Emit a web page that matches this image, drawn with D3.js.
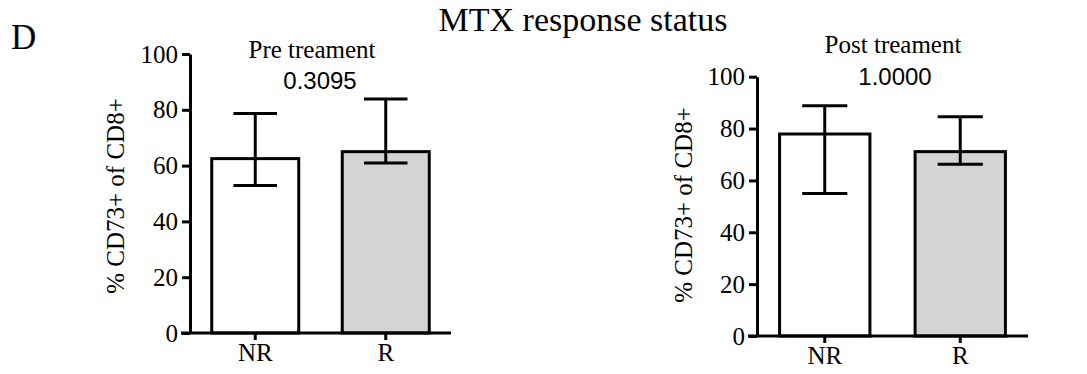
<!DOCTYPE html>
<html><head><meta charset="utf-8">
<script src="https://cdn.jsdelivr.net/npm/d3@7"></script>
<style>
html,body{margin:0;padding:0;background:#fff;}
svg{display:block;}
</style></head>
<body>
<svg id="chart" width="1087" height="374"></svg>
<script>
const categories = ["NR", "R"];
const yTicks = [0, 20, 40, 60, 80, 100];
const preMeans = [62.5, 65.0];
const preUpper = [78.7, 83.9];
const preLower = [52.9, 60.9];
const postMeans = [77.9, 71.1];
const postUpper = [88.8, 84.6];
const postLower = [55.0, 66.2];
const barFills = ["#ffffff", "#d4d4d4"];

const svg = d3.select("#chart");
const serif = "'Liberation Serif', 'Times New Roman', serif";
const sans = "'Liberation Sans', Arial, sans-serif";

svg.append("text").attr("x", 11).attr("y", 49).style("font-family", serif)
  .style("font-size", "35px").text("D");
svg.append("text").attr("x", 583).attr("y", 31).attr("text-anchor", "middle")
  .style("font-family", serif).style("font-size", "34px").text("MTX response status");

function panel(cfg) {
  const x = d3.scaleBand().domain(categories).range([cfg.x0, cfg.x1])
    .paddingInner(1/3).paddingOuter(1/6);
  const y = d3.scaleLinear().domain([0, 100]).range([cfg.yb, cfg.yt]);
  const g = svg.append("g");

  // bars
  g.selectAll("rect.bar").data(categories).enter().append("rect")
    .attr("x", d => x(d)).attr("width", x.bandwidth())
    .attr("y", (d, i) => y(cfg.means[i]))
    .attr("height", (d, i) => y(0) - y(cfg.means[i]))
    .attr("fill", (d, i) => barFills[i]).attr("stroke", "#000").attr("stroke-width", 3);

  // error bars
  const cap = x.bandwidth() * 0.5;
  categories.forEach((c, i) => {
    const cx = x(c) + x.bandwidth() / 2;
    g.append("line").attr("x1", cx).attr("x2", cx)
      .attr("y1", y(cfg.upper[i])).attr("y2", y(cfg.lower[i]))
      .attr("stroke", "#000").attr("stroke-width", 3);
    [cfg.upper[i], cfg.lower[i]].forEach(v => {
      g.append("line").attr("x1", cx - cap / 2).attr("x2", cx + cap / 2)
        .attr("y1", y(v)).attr("y2", y(v)).attr("stroke", "#000").attr("stroke-width", 3);
    });
  });

  // y axis
  const yAxis = g.append("g").attr("transform", `translate(${cfg.x0},0)`)
    .call(d3.axisLeft(y).tickValues(yTicks).tickSize(8).tickPadding(4).tickSizeOuter(0));
  yAxis.attr("font-family", null).attr("font-size", null);
  yAxis.select(".domain").attr("stroke", "#000").attr("stroke-width", 3);
  yAxis.selectAll(".tick line").attr("stroke", "#000").attr("stroke-width", 3);
  yAxis.selectAll(".tick text").style("font-family", serif).style("font-size", "25px").attr("fill", "#000");

  // x axis
  const xAxis = g.append("g").attr("transform", `translate(0,${cfg.yb})`)
    .call(d3.axisBottom(x).tickSize(7).tickPadding(3).tickSizeOuter(0));
  xAxis.attr("font-family", null).attr("font-size", null);
  xAxis.select(".domain").attr("d", `M${cfg.x0 - 9},0H${cfg.x1}`)
    .attr("stroke", "#000").attr("stroke-width", 3);
  xAxis.selectAll(".tick line").attr("stroke", "#000").attr("stroke-width", 3);
  xAxis.selectAll(".tick text").style("font-family", serif).style("font-size", "25px").attr("fill", "#000");

  // y label
  g.append("text").attr("transform", `translate(${cfg.labelX},${cfg.labelY}) rotate(-90)`)
    .attr("text-anchor", "middle").style("font-family", serif).style("font-size", "25px")
    .text("% CD73+ of CD8+");

  // subtitle and p-value
  g.append("text").attr("x", cfg.titleX).attr("y", cfg.titleY).attr("text-anchor", "middle")
    .style("font-family", serif).style("font-size", "25px").text(cfg.title);
  g.append("text").attr("x", cfg.pX).attr("y", cfg.pY).attr("text-anchor", "middle")
    .style("font-family", sans).style("font-size", "24px").text(cfg.p);
}

panel({x0: 190, x1: 451, yb: 333, yt: 54, means: preMeans, upper: preUpper, lower: preLower,
  labelX: 124, labelY: 196, title: "Pre treament", titleX: 312, titleY: 58,
  p: "0.3095", pX: 320, pY: 89});
panel({x0: 757, x1: 1028, yb: 336, yt: 76.7, means: postMeans, upper: postUpper, lower: postLower,
  labelX: 692, labelY: 205, title: "Post treament", titleX: 893, titleY: 53,
  p: "1.0000", pX: 895, pY: 85});
</script>
</body></html>
